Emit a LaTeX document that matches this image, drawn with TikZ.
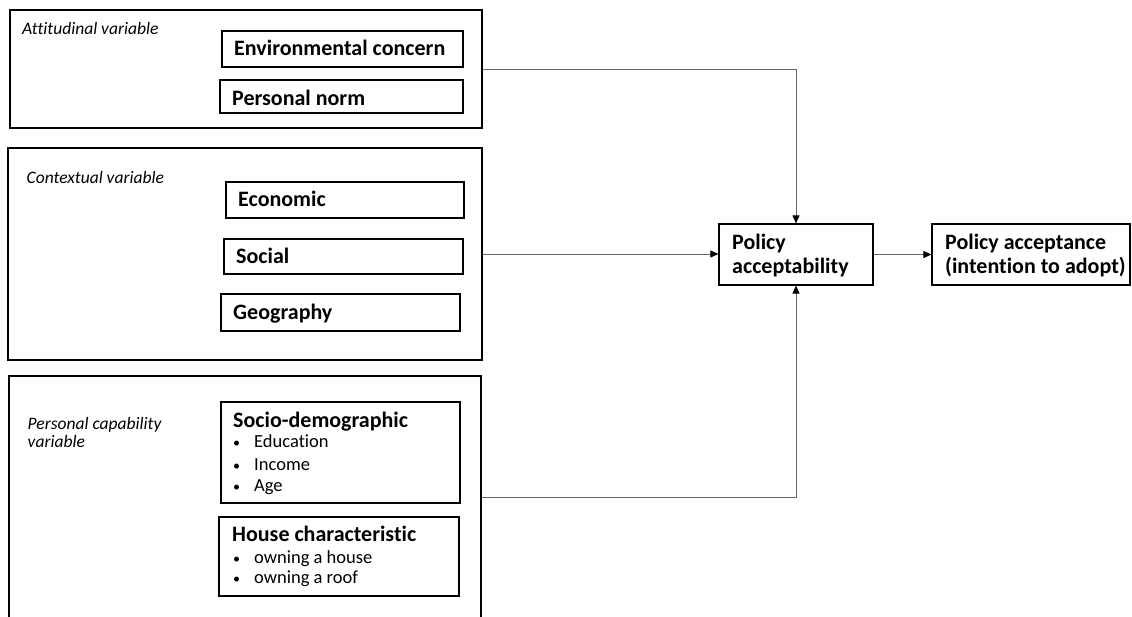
\documentclass[tikz,border=0pt]{standalone}
\usepackage{fontspec}
\setmainfont{Carlito}[Ligatures={NoCommon}]
\usetikzlibrary{arrows.meta,calc,fit}
\tikzset{
  box/.style={draw=black, line width=1.1pt, inner sep=0pt, fit={#1}},
  bold/.style={anchor=base west, inner sep=0pt, font=\fontsize{22}{26}\selectfont\bfseries},
  grp/.style={anchor=base west, inner sep=0pt, font=\fontsize{17.5}{20}\selectfont\itshape},
  item/.style={anchor=base west, inner sep=0pt, font=\fontsize{18.5}{21}\selectfont},
  conn/.style={draw=black!60, line width=0.9pt, -{Triangle[length=8pt,width=7pt,color=black]}},
}
\newcommand{\bul}[1]{\makebox[21pt][l]{\hspace{0pt}{\fontsize{14}{14}\selectfont\textbullet}}#1}
\begin{document}
\begin{tikzpicture}[x=1pt,y=-1pt]
\useasboundingbox (0,0) rectangle (1132,617);
% outer group boxes
\node[box={(10,10)(482,128)}] (b1) {};
\node[box={(8,148)(482,360)}] (b2) {};
\node[box={(9,376)(481,640)}] (b3) {};
% group labels
\node[grp] (l1) at (22,34.8) {Attitudinal variable};
\node[grp] (l2) at (26.5,183.8) {Contextual variable};
\node[grp] (l3a) at (27.5,429.5) {Personal capability};
\node[grp] (l3b) at (27.5,447.2) {variable};
% inner boxes
\node[box={(222,31)(463,67)}] (ec) {};
\node[box={(220,80)(463,113)}] (pn) {};
\node[box={(226,182)(464,218)}] (eco) {};
\node[box={(224,239)(463,274)}] (soc) {};
\node[box={(221,294)(460,331)}] (geo) {};
\node[box={(221,402)(460,503)}] (sd) {};
\node[box={(219,517)(459,596)}] (hc) {};
\node[box={(719,224)(873,285)}] (pa) {};
\node[box={(932,224)(1130,285)}] (pac) {};
% texts
\node[bold] (ect) at (234,55.5) {Environmental concern};
\node[bold] (pnt) at (232,105.5) {Personal norm};
\node[bold] (ecot) at (238,206.2) {Economic};
\node[bold] (soct) at (236,263.2) {Social};
\node[bold] (geot) at (233,319.2) {Geography};
\node[bold] (sdt) at (233,427.2) {Socio-demographic};
\node[item] (sd1) at (233,447.8) {\bul{Education}};
\node[item] (sd2) at (233,470.5) {\bul{Income}};
\node[item] (sd3) at (233,491.5) {\bul{Age}};
\node[bold] (hct) at (232,541.2) {House characteristic};
\node[item] (hc1) at (233,563.2) {\bul{owning a house}};
\node[item] (hc2) at (233,583.8) {\bul{owning a roof}};
\node[bold] (pat1) at (732,249.5) {Policy};
\node[bold] (pat2) at (732,273.2) {acceptability};
\node[bold] (pact1) at (945,249.5) {Policy acceptance};
\node[bold] (pact2) at (945,273.2) {(intention to adopt)};
% connectors
\coordinate (c3) at ($(b3.north east)+(0,122)$);
\draw[conn] (b1.east) -| (pa.north);
\draw[conn] (b2.east) -- (b2.east -| pa.west);
\draw[conn] (c3) -| (pa.south);
\draw[conn] (pa.east) -- (pa.east -| pac.west);
\end{tikzpicture}
\end{document}
